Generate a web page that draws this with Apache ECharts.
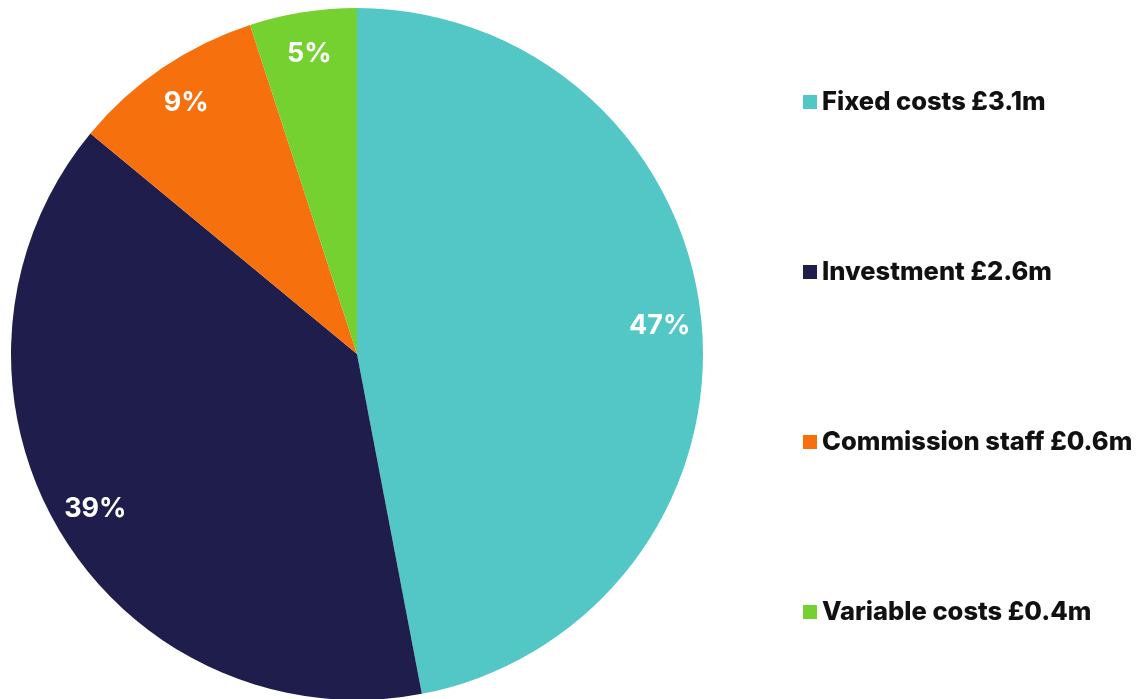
<!DOCTYPE html>
<html>
<head>
<meta charset="utf-8">
<script src="https://cdn.jsdelivr.net/npm/echarts@6/dist/echarts.min.js"></script>
<style>
  html, body { margin: 0; padding: 0; background: #fff; }
  #container { width: 1147px; height: 699px; }
</style>
</head>
<body>
<div id="container"></div>
<script>
const categories = ['Fixed costs', 'Investment', 'Commission staff', 'Variable costs']
const amounts = ['£3.1m', '£2.6m', '£0.6m', '£0.4m']
const percents = [47, 39, 9, 5]
const colors = ['#52C7C6', '#1E1D4C', '#F7700E', '#74D130']

const chart = echarts.init(document.getElementById('container'), null, { renderer: 'canvas' })

const pieData = categories.map(function (name, i) {
  return { name: name, value: percents[i] }
})

const option = {
  color: colors,
  animation: false,
  legend: {
    orient: 'vertical',
    left: 803,
    top: 89,
    padding: 0,
    icon: 'rect',
    itemWidth: 14,
    itemHeight: 14,
    itemGap: 144,
    itemTextGap: 12,
    data: categories,
    formatter: function (name) {
      return name + ' ' + amounts[categories.indexOf(name)]
    },
    textStyle: {
      color: '#111111',
      fontFamily: 'Inter',
      fontWeight: 800,
      fontSize: 25.5,
      lineHeight: 25
    }
  },
  series: [
    {
      // the pie itself
      type: 'pie',
      center: [357, 354],
      radius: [0, 346],
      startAngle: 90,
      clockwise: true,
      silent: true,
      label: { show: false },
      labelLine: { show: false },
      data: pieData
    },
    {
      // transparent ring, only used to place the labels near the rim
      type: 'pie',
      center: [357, 354],
      radius: [256, 346],
      startAngle: 90,
      clockwise: true,
      silent: true,
      itemStyle: { color: 'rgba(0,0,0,0)' },
      label: {
        show: true,
        position: 'inside',
        formatter: '{c}%',
        color: '#ffffff',
        fontFamily: 'Inter',
        fontWeight: 'bold',
        fontSize: 27
      },
      labelLine: { show: false },
      data: pieData
    }
  ]
}

option && chart.setOption(option)
</script>
</body>
</html>
